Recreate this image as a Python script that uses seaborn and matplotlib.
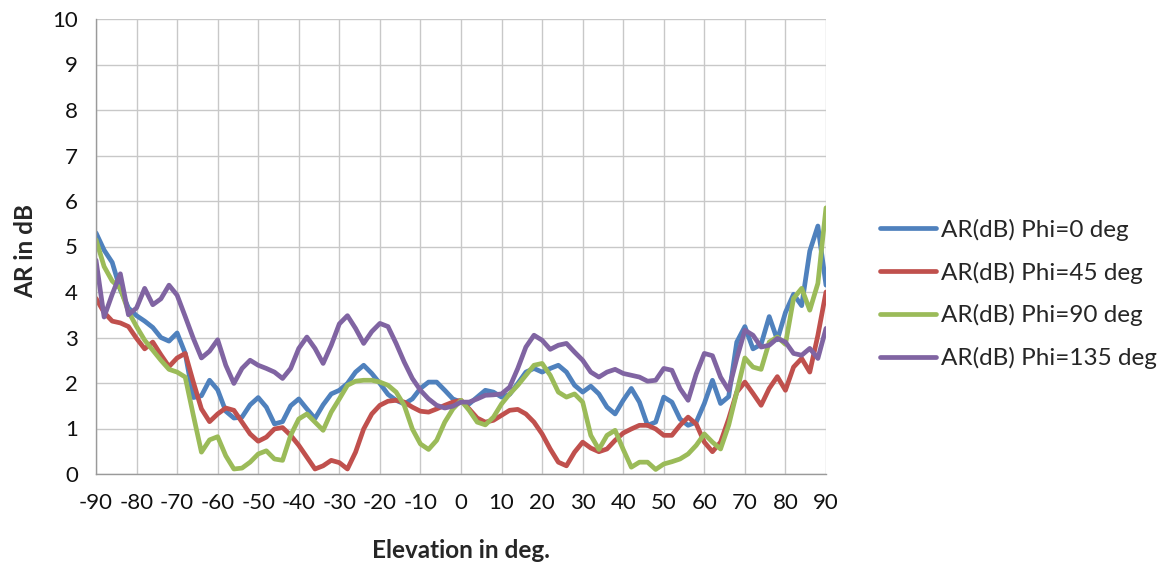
"""
Axial ratio vs elevation for four phi cuts.
"""
import numpy as np
import pandas as pd
import matplotlib
matplotlib.use("Agg")
import matplotlib.pyplot as plt
import seaborn as sns

elevation = list(range(-90, 91, 2))

ar_phi0 = [5.30, 4.92, 4.65, 4.05, 3.65, 3.48, 3.36, 3.22, 3.00, 2.92,
           3.10, 2.65, 1.68, 1.72, 2.06, 1.85, 1.38, 1.23, 1.25, 1.52,
           1.68, 1.47, 1.10, 1.15, 1.50, 1.65, 1.43, 1.22, 1.52, 1.76,
           1.84, 1.99, 2.24, 2.39, 2.21, 1.99, 1.75, 1.62, 1.54, 1.65,
           1.88, 2.02, 2.02, 1.84, 1.65, 1.58, 1.54, 1.69, 1.84, 1.80,
           1.69, 1.75, 1.99, 2.24, 2.32, 2.24, 2.32, 2.39, 2.24, 1.95,
           1.80, 1.93, 1.76, 1.47, 1.32, 1.62, 1.88, 1.58, 1.07, 1.14,
           1.69, 1.58, 1.21, 1.07, 1.14, 1.55, 2.06, 1.55, 1.70, 2.90,
           3.24, 2.75, 2.85, 3.46, 2.95, 3.55, 3.95, 3.70, 4.90, 5.45,
           4.15]

ar_phi45 = [3.86, 3.55, 3.36, 3.32, 3.24, 2.98, 2.75, 2.90, 2.62, 2.36,
            2.55, 2.65, 2.02, 1.43, 1.15, 1.32, 1.45, 1.40, 1.14, 0.88,
            0.72, 0.81, 0.99, 1.02, 0.85, 0.63, 0.37, 0.11, 0.18, 0.30,
            0.25, 0.11, 0.48, 0.99, 1.32, 1.51, 1.60, 1.62, 1.58, 1.47,
            1.38, 1.36, 1.43, 1.51, 1.58, 1.62, 1.43, 1.23, 1.14, 1.18,
            1.29, 1.40, 1.42, 1.32, 1.14, 0.88, 0.55, 0.26, 0.18, 0.48,
            0.70, 0.57, 0.49, 0.55, 0.74, 0.90, 0.99, 1.07, 1.07, 0.99,
            0.85, 0.85, 1.07, 1.25, 1.10, 0.70, 0.49, 0.70, 1.21, 1.80,
            2.02, 1.77, 1.51, 1.88, 2.14, 1.84, 2.35, 2.54, 2.24, 3.05,
            4.00]

ar_phi90 = [5.15, 4.56, 4.24, 4.08, 3.57, 3.24, 2.94, 2.72, 2.50, 2.30,
            2.24, 2.13, 1.29, 0.48, 0.75, 0.82, 0.40, 0.11, 0.13, 0.26,
            0.44, 0.51, 0.33, 0.30, 0.85, 1.21, 1.32, 1.14, 0.96, 1.36,
            1.65, 1.95, 2.04, 2.06, 2.06, 2.02, 1.95, 1.80, 1.51, 0.99,
            0.66, 0.54, 0.74, 1.14, 1.43, 1.62, 1.40, 1.14, 1.08, 1.25,
            1.54, 1.76, 1.95, 2.17, 2.39, 2.43, 2.17, 1.80, 1.69, 1.76,
            1.58, 0.85, 0.54, 0.85, 0.96, 0.54, 0.15, 0.26, 0.26, 0.10,
            0.22, 0.27, 0.33, 0.44, 0.63, 0.88, 0.70, 0.55, 1.07, 1.80,
            2.55, 2.35, 2.30, 2.90, 3.01, 2.85, 3.86, 4.08, 3.60, 4.19,
            5.85]

ar_phi135 = [4.70, 3.45, 3.95, 4.40, 3.50, 3.65, 4.08, 3.72, 3.85, 4.15,
             3.93, 3.46, 2.98, 2.55, 2.70, 2.95, 2.39, 1.99, 2.32, 2.50,
             2.39, 2.32, 2.24, 2.10, 2.32, 2.76, 3.01, 2.76, 2.43, 2.83,
             3.30, 3.48, 3.20, 2.87, 3.13, 3.31, 3.24, 2.87, 2.46, 2.10,
             1.84, 1.65, 1.51, 1.45, 1.49, 1.58, 1.58, 1.65, 1.73, 1.74,
             1.76, 1.91, 2.32, 2.79, 3.05, 2.94, 2.74, 2.83, 2.87, 2.68,
             2.50, 2.24, 2.13, 2.24, 2.30, 2.21, 2.17, 2.13, 2.04, 2.06,
             2.32, 2.28, 1.88, 1.62, 2.20, 2.65, 2.60, 2.13, 1.84, 2.54,
             3.16, 3.05, 2.79, 2.83, 2.98, 2.90, 2.65, 2.61, 2.76, 2.54,
             3.20]

series_names = ["AR(dB) Phi=0 deg", "AR(dB) Phi=45 deg",
                "AR(dB) Phi=90 deg", "AR(dB) Phi=135 deg"]
colors = ["#4F81BD", "#C0504D", "#9BBB59", "#8064A2"]

frames = []
for name, vals in zip(series_names, [ar_phi0, ar_phi45, ar_phi90, ar_phi135]):
    frames.append(pd.DataFrame({"Elevation": elevation, "AR": vals, "Series": name}))
df = pd.concat(frames, ignore_index=True)

sns.set_style("white")
plt.rcParams["font.family"] = ["Lato", "DejaVu Sans"]
plt.rcParams["axes.unicode_minus"] = False

fig = plt.figure(figsize=(11.63, 5.65), dpi=100)
ax = fig.add_axes([96 / 1163, 1 - 474 / 565, 730 / 1163, 455 / 565])

sns.lineplot(data=df, x="Elevation", y="AR", hue="Series", palette=colors,
             linewidth=3.4, ax=ax, sort=False,
             solid_joinstyle="round", solid_capstyle="round")

ax.set_xlim(-90, 90)
ax.set_ylim(0, 10)
ax.set_xticks(np.arange(-90, 91, 10))
ax.set_yticks(np.arange(0, 11, 1))
ax.grid(True, color="#c8c8c8", linewidth=1.0)
ax.set_axisbelow(True)
for side in ["top", "right"]:
    ax.spines[side].set_visible(False)
for side in ["left", "bottom"]:
    ax.spines[side].set_color("#9a9a9a")
    ax.spines[side].set_linewidth(1.0)
ax.tick_params(axis="x", length=0, pad=14, labelsize=16, labelcolor="#111111")
ax.tick_params(axis="y", length=0, pad=13, labelsize=16, labelcolor="#111111")

ax.set_xlabel("Elevation in deg.", fontsize=17.5, fontweight="bold")
ax.set_ylabel("AR in dB", fontsize=17.5, fontweight="bold")
ax.xaxis.set_label_coords(0.5, -0.143)
ax.yaxis.set_label_coords(-0.081, 0.49)

handles, labels = ax.get_legend_handles_labels()
ax.legend(handles, labels, loc="center left", bbox_to_anchor=(880 / 1163, 1 - 294 / 565),
          bbox_transform=fig.transFigure, frameon=False, fontsize=17.5,
          handlelength=2.3, handletextpad=0.2, labelspacing=0.85,
          borderpad=0, borderaxespad=0)

plt.savefig("out.png", dpi=100)
plt.close()
